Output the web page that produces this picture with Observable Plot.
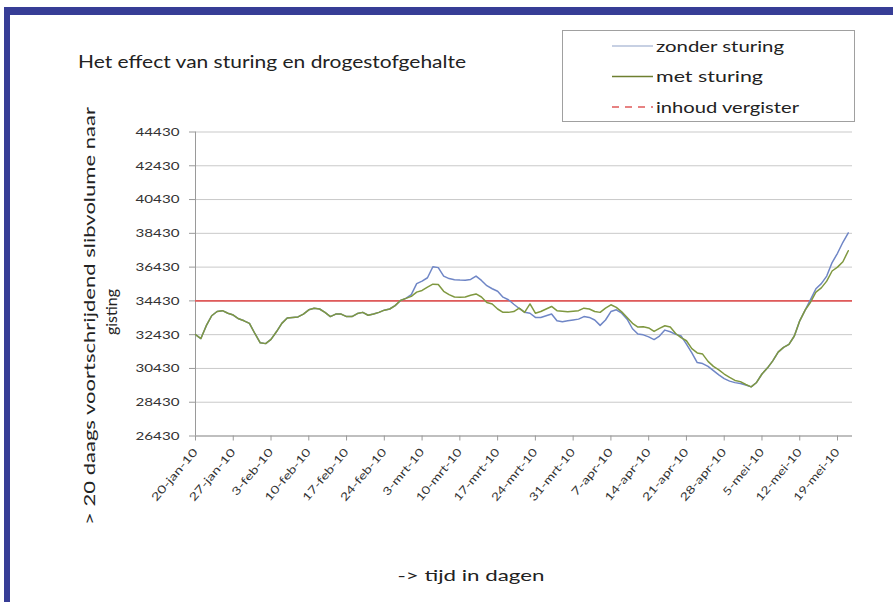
<!DOCTYPE html>
<html>
<head>
<meta charset="utf-8">
<script src="https://cdn.jsdelivr.net/npm/d3@7"></script>
<script src="https://cdn.jsdelivr.net/npm/@observablehq/plot@0.6"></script>
<style>
  body { margin: 0; background: #fff; }
  #chart { position: relative; width: 893px; height: 602px; }
</style>
</head>
<body>
<div id="chart"></div>
<script>
// ---- data (one value per day, starting 20-jan-2010) ----
const startDate = "2010-01-20";
const zonderSturing = [
  32430, 32200, 32960, 33550, 33800, 33850, 33700, 33590, 33370, 33250,
  33100, 32500, 31950, 31900, 32150, 32600, 33100, 33420, 33450, 33480,
  33650, 33900, 33990, 33950, 33750, 33500, 33650, 33650, 33500, 33500,
  33680, 33750, 33580, 33650, 33750, 33880, 33950, 34150, 34450, 34580,
  34800, 35450, 35600, 35800, 36450, 36400, 35900, 35750, 35680, 35660,
  35650, 35700, 35900, 35640, 35330, 35150, 35000, 34650, 34500, 34230,
  33980, 33760, 33700, 33450, 33450, 33550, 33650, 33250, 33200, 33250,
  33300, 33350, 33500, 33450, 33300, 32980, 33300, 33800, 33900, 33700,
  33350, 32780, 32470, 32420, 32300, 32140, 32350, 32700, 32600, 32450,
  32360, 31870, 31350, 30780, 30720, 30550, 30300, 30050, 29830, 29680,
  29590, 29540, 29450, 29340, 29600, 30100, 30450, 30880, 31400, 31680,
  31850, 32350, 33250, 33880, 34500, 35150, 35450, 35900, 36700, 37250,
  37900, 38450
];
const metSturing = [
  32430, 32200, 32960, 33550, 33800, 33850, 33700, 33590, 33370, 33250,
  33100, 32500, 31950, 31900, 32150, 32600, 33100, 33420, 33450, 33480,
  33650, 33900, 33990, 33950, 33750, 33500, 33650, 33650, 33500, 33500,
  33680, 33750, 33580, 33650, 33750, 33880, 33950, 34150, 34450, 34580,
  34700, 34950, 35050, 35250, 35420, 35400, 35000, 34800, 34660, 34640,
  34660, 34760, 34840, 34660, 34340, 34250, 33950, 33750, 33750, 33800,
  34000, 33750, 34250, 33700, 33800, 33950, 34100, 33850, 33820, 33780,
  33820, 33850, 34000, 33950, 33800, 33750, 34000, 34200, 34050, 33780,
  33450, 33100, 32880, 32900, 32830, 32620, 32800, 32960, 32880, 32500,
  32250, 32070, 31600, 31350, 31280, 30850, 30550, 30350, 30100, 29900,
  29720, 29650, 29480, 29340, 29600, 30100, 30450, 30880, 31400, 31680,
  31850, 32350, 33250, 33880, 34350, 34950, 35200, 35600, 36200, 36430,
  36750, 37400
];
const inhoudVergister = 34430;
const yTicks = [26430, 28430, 30430, 32430, 34430, 36430, 38430, 40430, 42430, 44430];
const tickDates = ["2010-01-20","2010-01-27","2010-02-03","2010-02-10","2010-02-17","2010-02-24",
  "2010-03-03","2010-03-10","2010-03-17","2010-03-24","2010-03-31","2010-04-07","2010-04-14",
  "2010-04-21","2010-04-28","2010-05-05","2010-05-12","2010-05-19"];
const tickLabels = ["20-jan-10","27-jan-10","3-feb-10","10-feb-10","17-feb-10","24-feb-10",
  "3-mrt-10","10-mrt-10","17-mrt-10","24-mrt-10","31-mrt-10","7-apr-10","14-apr-10",
  "21-apr-10","28-apr-10","5-mei-10","12-mei-10","19-mei-10"];
const seriesNames = ["zonder sturing", "met sturing", "inhoud vergister"];
const titleText = "Het effect van sturing en drogestofgehalte";
const yLabel1 = "> 20 daags voortschrijdend slibvolume naar";
const yLabel2 = "gisting";
const xLabel = "-> tijd in dagen";

// ---- build ----
const DAY = 864e5;
const t0 = new Date(startDate + "T00:00:00Z").getTime();
const toRows = (arr, s) => arr.map((v, i) => ({date: new Date(t0 + i * DAY), value: v, series: s}));
const zRows = toRows(zonderSturing, seriesNames[0]);
const mRows = toRows(metSturing, seriesNames[1]);
const tDates = tickDates.map(d => new Date(d + "T00:00:00Z"));
const labelMap = new Map(tDates.map((d, i) => [+d, tickLabels[i]]));

const colZ = "#6f86c6", colM = "#7f9840", colR = "#e05a5a";

const chart = Plot.plot({
  width: 893, height: 602,
  marginLeft: 195, marginRight: 41, marginTop: 131.5, marginBottom: 166.5,
  style: {fontFamily: "Lato, 'Liberation Sans', sans-serif", background: "transparent", overflow: "visible"},
  x: {type: "utc", domain: [new Date(t0), new Date(t0 + 121.78 * DAY)], label: null},
  y: {domain: [26430, 44430], label: null},
  marks: [
    Plot.gridY(yTicks, {stroke: "#c9c9c9", strokeOpacity: 1}),
    Plot.ruleY([26430], {stroke: "#9a9a9a"}),
    Plot.ruleX([new Date(t0)], {stroke: "#9a9a9a"}),
    Plot.ruleY([inhoudVergister], {stroke: colR, strokeWidth: 1.6}),
    Plot.lineY(zRows, {x: "date", y: "value", stroke: colZ, strokeWidth: 1.5}),
    Plot.lineY(mRows, {x: "date", y: "value", stroke: colM, strokeWidth: 1.5}),
    Plot.axisY(yTicks, {label: null, tickSize: 6, tickPadding: 10, fontSize: 12, stroke: "#9a9a9a", fill: "#333",
      tickFormat: d => String(d)}),
    Plot.axisX(tDates, {label: null, tickSize: 5, tickPadding: 9, tickRotate: -50, fontSize: 11,
      stroke: "#9a9a9a", fill: "#333", tickFormat: d => labelMap.get(+d)})
  ]
});
document.getElementById("chart").appendChild(chart);

const svg = d3.select(chart);
svg.selectAll('g[aria-label="y-axis tick label"] text')
  .attr("textLength", 44).attr("lengthAdjust", "spacingAndGlyphs");
svg.selectAll('g[aria-label="x-axis tick label"] text')
  .each(function() {
    const t = d3.select(this).text();
    d3.select(this).attr("textLength", t.length * 7.2).attr("lengthAdjust", "spacingAndGlyphs");
  });

const g = svg.append("g").attr("font-family", "Lato, 'Liberation Sans', sans-serif")
  .attr("fill", "#222").attr("text-anchor", "start");
// blue frame
g.append("rect").attr("x", 4).attr("y", 7).attr("width", 889).attr("height", 8).attr("fill", "#373d96");
g.append("rect").attr("x", 4).attr("y", 7).attr("width", 6).attr("height", 595).attr("fill", "#373d96");
// title
g.append("text").attr("x", 78).attr("y", 68).attr("font-size", 17)
  .attr("textLength", 388).attr("lengthAdjust", "spacingAndGlyphs").text(titleText);
// legend
g.append("rect").attr("x", 562.5).attr("y", 30.5).attr("width", 292).attr("height", 91)
  .attr("fill", "#fff").attr("stroke", "#a0a0a0");
const legY = [46, 76.5, 107];
const legCol = ["#b4c0da", "#6e7f30", colR];
const legLen = [128, 107, 143];
seriesNames.forEach((s, i) => {
  g.append("line").attr("x1", 612).attr("x2", 653).attr("y1", legY[i]).attr("y2", legY[i])
    .attr("stroke", legCol[i]).attr("stroke-width", 1.6)
    .attr("stroke-dasharray", i === 2 ? "7,6" : null);
  g.append("text").attr("x", 656).attr("y", legY[i]).attr("dy", "0.35em").attr("font-size", 16)
    .attr("textLength", legLen[i]).attr("lengthAdjust", "spacingAndGlyphs").text(s);
});
// y label
g.append("text").attr("transform", "translate(89,316) rotate(-90)").attr("text-anchor", "middle")
  .attr("dy", "0.35em").attr("font-size", 16).attr("textLength", 418).attr("lengthAdjust", "spacingAndGlyphs")
  .text(yLabel1);
g.append("text").attr("transform", "translate(111,312) rotate(-90)").attr("text-anchor", "middle")
  .attr("dy", "0.35em").attr("font-size", 16).attr("textLength", 46).attr("lengthAdjust", "spacingAndGlyphs")
  .text(yLabel2);
// x label
g.append("text").attr("x", 471).attr("y", 575).attr("text-anchor", "middle").attr("dy", "0.35em")
  .attr("font-size", 16).attr("textLength", 147).attr("lengthAdjust", "spacingAndGlyphs").text(xLabel);
</script>
</body>
</html>
